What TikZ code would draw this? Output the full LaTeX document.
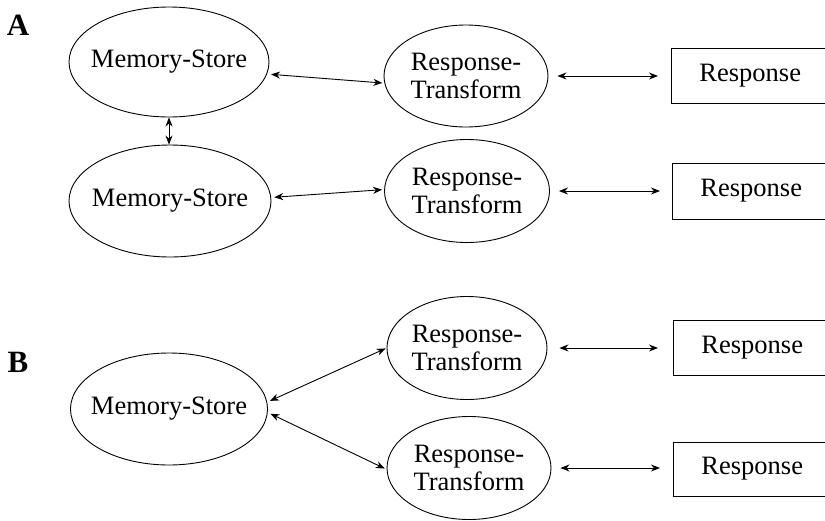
\documentclass[tikz,border=0pt]{standalone}
\usepackage{fontspec}
\setmainfont{Liberation Serif}
\usetikzlibrary{arrows.meta,shapes.geometric}
\begin{document}
\begin{tikzpicture}[x=1pt,y=-1pt,
  every node/.style={font=\fontsize{26.5}{28}\selectfont},
  ell/.style={draw,ellipse,line width=0.9pt,inner sep=0pt,align=center},
  mem/.style={ell,inner xsep=-14pt},
  resp/.style={draw,rectangle,line width=0.9pt,anchor=west,inner xsep=28pt,inner ysep=0pt,text width=260pt,align=left},
  conn/.style={line width=0.9pt,{Stealth[length=9pt,width=7pt]}-{Stealth[length=9pt,width=7pt]}},
  lab/.style={font=\fontsize{31}{31}\selectfont\bfseries}]
\useasboundingbox (0,0) rectangle (825,520);
\clip (0,0) rectangle (825,520);
% labels
\node[lab] (la) at (18,25) {A};
\node[lab] (lb) at (18,362) {B};
% panel A
\node[mem,minimum width=200pt,minimum height=110pt] (ms1) at (169,62) {Memory-Store};
\node[mem,minimum width=202pt,minimum height=112pt] (ms2) at (170,201) {Memory-Store};
\node[ell,minimum width=164pt,minimum height=102pt] (rt1) at (466,76) {Response-\\Transform};
\node[ell,minimum width=165pt,minimum height=103pt] (rt2) at (467,191) {Response-\\Transform};
\node[resp,minimum height=55pt] (resp1) at (671,75.5) {Response};
\node[resp,minimum height=56pt] (resp2) at (672,191) {Response};
% panel B
\node[mem,minimum width=197pt,minimum height=112pt] (ms3) at (169,409) {Memory-Store};
\node[ell,minimum width=160pt,minimum height=103pt] (rt3) at (467,348) {Response-\\Transform};
\node[ell,minimum width=164pt,minimum height=103pt] (rt4) at (469,468) {Response-\\Transform};
\node[resp,minimum height=55pt] (resp3) at (673,347.5) {Response};
\node[resp,minimum height=54pt] (resp4) at (673,469) {Response};
% connectors A
\draw[conn,shorten <=4pt,shorten >=2pt] (ms1.-7) -- (rt1.185);
\draw[conn,shorten <=3pt,shorten >=2pt] (ms2.2) -- (rt2.179);
\draw[conn] (ms1.south) -- (ms1.south |- ms2.north);
\draw[conn,shorten <=9pt,shorten >=13pt] (rt1.east) -- (rt1.east -| resp1.west);
\draw[conn,shorten <=9pt,shorten >=12pt] (rt2.east) -- (rt2.east -| resp2.west);
% connectors B
\draw[conn,shorten <=3pt,shorten >=1pt] (ms3.4) -- (rt3.180);
\draw[conn,shorten <=3pt,shorten >=2pt] (ms3.-2) -- (rt4.181);
\draw[conn,shorten <=12pt,shorten >=15pt] (rt3.east) -- (rt3.east -| resp3.west);
\draw[conn,shorten <=9pt,shorten >=13pt] (rt4.east) -- (rt4.east -| resp4.west);
\end{tikzpicture}
\end{document}
